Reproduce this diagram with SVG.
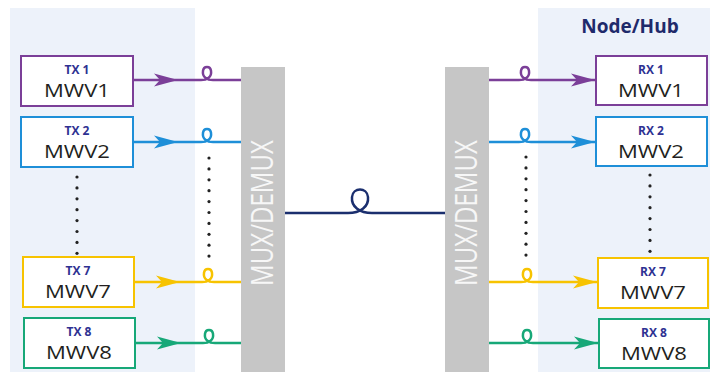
<svg xmlns="http://www.w3.org/2000/svg" width="710" height="372" viewBox="0 0 710 372">
<style>
.panel{fill:#edf2fa}
.bar{fill:#c6c6c6}
.box{fill:#fff;stroke-width:2}
.lbl{font-family:"Open Sans","Liberation Sans",sans-serif;font-weight:bold;font-size:12px;fill:#2e3192;text-anchor:middle}
.mwv{font-family:"Open Sans","Liberation Sans",sans-serif;font-size:18px;fill:#231f20;text-anchor:middle}
.mux{font-family:"Open Sans","Liberation Sans",sans-serif;font-size:31px;fill:#f7f7f7;text-anchor:middle}
.hub{font-family:"Open Sans","Liberation Sans",sans-serif;font-weight:bold;font-size:19px;fill:#1f2a6b;text-anchor:middle}
.ln{fill:none;stroke-width:2.5}
.p{stroke:#7b3f98}.b{stroke:#1e8fd8}.y{stroke:#f7c300}.g{stroke:#17a878}
.pf{fill:#7b3f98}.bf{fill:#1e8fd8}.yf{fill:#f7c300}.gf{fill:#17a878}
.dot{fill:#222}
</style>
<defs>
<path id="ah" d="M0,0 L-24,-6.5 L-18,0 L-24,6.5 Z"/>
<path id="lp" d="M-6,0 C0,0 5,-3 4,-9 C3.5,-14.5 -3.5,-14.5 -4,-9 C-5,-3 0,0 6,0"/>
<path id="blp" d="M-12,0 C0,0 9,-6 8,-16 C7,-26 -7,-26 -8,-16 C-9,-6 0,0 12,0"/>
<g id="dots8"><circle cx="0" cy="0" r="1.6"/><circle cx="0" cy="10.9" r="1.6"/><circle cx="0" cy="21.8" r="1.6"/><circle cx="0" cy="32.7" r="1.6"/><circle cx="0" cy="43.6" r="1.6"/><circle cx="0" cy="54.5" r="1.6"/><circle cx="0" cy="65.4" r="1.6"/><circle cx="0" cy="76.3" r="1.6"/></g>
<g id="dots10"><use href="#dots8"/><circle cx="0" cy="87.2" r="1.6"/><circle cx="0" cy="98.1" r="1.6"/></g>
</defs>

<rect class="panel" x="10" y="8" width="185" height="364"/>
<rect class="panel" x="538" y="8" width="172" height="364"/>
<text class="hub" x="630" y="33">Node/Hub</text>

<g id="mux-left"><rect class="bar" x="241" y="67" width="44" height="305"/>
<text class="mux" transform="translate(273,213) rotate(-90)" textLength="146" lengthAdjust="spacingAndGlyphs">MUX/DEMUX</text></g>
<g id="mux-right"><rect class="bar" x="445" y="67" width="44" height="305"/>
<text class="mux" transform="translate(477,213) rotate(-90)" textLength="146" lengthAdjust="spacingAndGlyphs">MUX/DEMUX</text></g>

<g id="tx1"><rect class="box p" x="21" y="56" width="112" height="50"/><text class="lbl" x="77" y="74">TX 1</text><text class="mwv" x="77" y="97" textLength="66" lengthAdjust="spacingAndGlyphs">MWV1</text></g>
<g id="tx2"><rect class="box b" x="21" y="117" width="112" height="50"/><text class="lbl" x="77" y="135">TX 2</text><text class="mwv" x="77" y="158" textLength="66" lengthAdjust="spacingAndGlyphs">MWV2</text></g>
<g id="tx7"><rect class="box y" x="23" y="257" width="111" height="50"/><text class="lbl" x="78" y="275">TX 7</text><text class="mwv" x="78" y="298" textLength="66" lengthAdjust="spacingAndGlyphs">MWV7</text></g>
<g id="tx8"><rect class="box g" x="24" y="318" width="111" height="50"/><text class="lbl" x="79" y="336">TX 8</text><text class="mwv" x="79" y="359" textLength="66" lengthAdjust="spacingAndGlyphs">MWV8</text></g>

<g id="rx1"><rect class="box p" x="596" y="56" width="111" height="49"/><text class="lbl" x="651" y="74">RX 1</text><text class="mwv" x="651" y="97" textLength="66" lengthAdjust="spacingAndGlyphs">MWV1</text></g>
<g id="rx2"><rect class="box b" x="596" y="117" width="111" height="49"/><text class="lbl" x="651" y="135">RX 2</text><text class="mwv" x="651" y="158" textLength="66" lengthAdjust="spacingAndGlyphs">MWV2</text></g>
<g id="rx7"><rect class="box y" x="598" y="258" width="110" height="50"/><text class="lbl" x="653" y="276">RX 7</text><text class="mwv" x="653" y="299" textLength="66" lengthAdjust="spacingAndGlyphs">MWV7</text></g>
<g id="rx8"><rect class="box g" x="599" y="319" width="110" height="49"/><text class="lbl" x="654" y="337">RX 8</text><text class="mwv" x="654" y="360" textLength="66" lengthAdjust="spacingAndGlyphs">MWV8</text></g>

<g id="dots" class="dot">
<use href="#dots8" x="77" y="177"/>
<use href="#dots10" x="209" y="158"/>
<use href="#dots10" x="526" y="157"/>
<use href="#dots8" x="650" y="175"/>
</g>

<g id="connectors">
<path class="ln p" d="M133,80 H201 M213,80 H241"/><use class="ln p" href="#lp" x="207" y="80"/><use class="pf" href="#ah" x="178" y="80"/>
<path class="ln b" d="M133,142 H201 M213,142 H241"/><use class="ln b" href="#lp" x="207" y="142"/><use class="bf" href="#ah" x="178" y="142"/>
<path class="ln y" d="M134,282 H202 M214,282 H241"/><use class="ln y" href="#lp" x="208" y="282"/><use class="yf" href="#ah" x="180" y="282"/>
<path class="ln g" d="M135,343 H203 M215,343 H241"/><use class="ln g" href="#lp" x="209" y="343"/><use class="gf" href="#ah" x="181" y="343"/>

<path class="ln p" d="M489,80 H519 M531,80 H596"/><use class="ln p" href="#lp" x="525" y="80"/><use class="pf" href="#ah" x="595" y="80"/>
<path class="ln b" d="M489,142 H519 M531,142 H596"/><use class="ln b" href="#lp" x="525" y="142"/><use class="bf" href="#ah" x="595" y="142"/>
<path class="ln y" d="M489,282 H521 M533,282 H598"/><use class="ln y" href="#lp" x="527" y="282"/><use class="yf" href="#ah" x="597" y="282"/>
<path class="ln g" d="M489,343 H521 M533,343 H599"/><use class="ln g" href="#lp" x="527" y="343"/><use class="gf" href="#ah" x="598" y="343"/>

<path class="ln" stroke="#1b2f6e" stroke-width="3" d="M285,213 H348 M372,213 H445"/>
<use class="ln" stroke="#1b2f6e" stroke-width="3" href="#blp" x="360" y="213"/>
</g>
</svg>
